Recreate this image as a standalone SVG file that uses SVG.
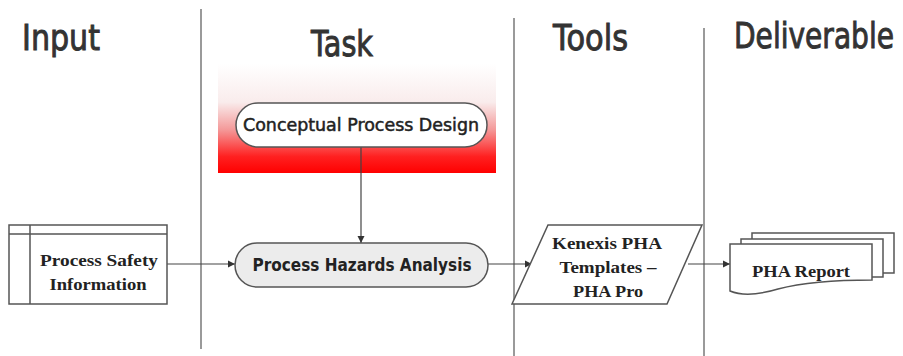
<svg xmlns="http://www.w3.org/2000/svg" width="903" height="356" viewBox="0 0 903 356">
  <defs>
    <linearGradient id="redFade" x1="0" y1="0" x2="0" y2="1">
      <stop offset="0" stop-color="#ffffff"/>
      <stop offset="0.35" stop-color="#f9ecec"/>
      <stop offset="0.6" stop-color="#f49a9a"/>
      <stop offset="0.85" stop-color="#ff2020"/>
      <stop offset="1" stop-color="#ff0000"/>
    </linearGradient>
    <marker id="arrow" markerWidth="8" markerHeight="8" refX="7" refY="4" orient="auto" markerUnits="userSpaceOnUse">
      <path d="M0,0.5 L7,4 L0,7.5 Z" fill="#333"/>
    </marker>
    <style>
      .lane { stroke: #9a9a9a; stroke-width: 2; fill: none; }
      .head { font-family: "DejaVu Sans", Verdana, sans-serif; font-size: 29px; fill: #333; stroke: #333; stroke-width: 0.8px; }
      .shape { stroke: #555; stroke-width: 1.5; fill: #fff; }
      .serif { font-family: "Liberation Serif", "Times New Roman", serif; font-weight: bold; font-size: 17px; fill: #222; text-anchor: middle; }
      .sans { font-family: "DejaVu Sans", Verdana, sans-serif; font-size: 17px; fill: #222; text-anchor: middle; }
      .conn { stroke: #444; stroke-width: 1.2; fill: none; marker-end: url(#arrow); }
    </style>
  </defs>

  <!-- swimlane separators -->
  <g id="lanes">
    <line class="lane" x1="201" y1="9" x2="201" y2="349"/>
    <line class="lane" x1="514" y1="18" x2="514" y2="356"/>
    <line class="lane" x1="704" y1="28" x2="704" y2="356"/>
  </g>

  <!-- column headings, stretched vertically for the tall narrow look -->
  <g id="headings">
    <text class="head" transform="translate(22,50) scale(1,1.22)" textLength="78" lengthAdjust="spacingAndGlyphs">Input</text>
    <text class="head" transform="translate(311,56) scale(1,1.22)" textLength="62" lengthAdjust="spacingAndGlyphs">Task</text>
    <text class="head" transform="translate(553,50) scale(1,1.22)" textLength="75" lengthAdjust="spacingAndGlyphs">Tools</text>
    <text class="head" transform="translate(734,48) scale(1,1.22)" textLength="160" lengthAdjust="spacingAndGlyphs">Deliverable</text>
  </g>

  <!-- red backdrop behind the design step -->
  <rect id="design-band" x="218" y="64" width="278" height="109" fill="url(#redFade)"/>

  <g id="connectors">
    <line class="conn" x1="167" y1="264" x2="235" y2="264"/>
    <line class="conn" x1="361" y1="147" x2="361" y2="243"/>
    <line class="conn" x1="488" y1="264" x2="532" y2="264"/>
    <line class="conn" x1="688" y1="264" x2="730" y2="264"/>
  </g>

  <g id="process-safety-information">
    <rect class="shape" x="9" y="225" width="158" height="79"/>
    <line x1="30" y1="225" x2="30" y2="304" stroke="#555" stroke-width="1.5"/>
    <line x1="9" y1="234" x2="167" y2="234" stroke="#555" stroke-width="1.5"/>
    <text class="serif" x="99" y="266" textLength="118" lengthAdjust="spacingAndGlyphs">Process Safety</text>
    <text class="serif" x="98" y="290" textLength="97" lengthAdjust="spacingAndGlyphs">Information</text>
  </g>

  <g id="conceptual-process-design">
    <rect class="shape" x="236" y="103" width="251" height="44" rx="22"/>
    <text class="sans" x="361" y="131" stroke="#222" stroke-width="0.5" textLength="236" lengthAdjust="spacingAndGlyphs">Conceptual Process Design</text>
  </g>

  <g id="process-hazards-analysis">
    <rect class="shape" x="235" y="243" width="253" height="44" rx="22" style="fill:#ececec"/>
    <text class="sans" x="362" y="271" font-weight="bold" textLength="219" lengthAdjust="spacingAndGlyphs">Process Hazards Analysis</text>
  </g>

  <g id="pha-templates">
    <polygon class="shape" points="548,225 702,225 667,304 512,304"/>
    <text class="serif" x="607" y="249" textLength="110" lengthAdjust="spacingAndGlyphs">Kenexis PHA</text>
    <text class="serif" x="608" y="273" textLength="97" lengthAdjust="spacingAndGlyphs">Templates –</text>
    <text class="serif" x="608" y="297" textLength="70" lengthAdjust="spacingAndGlyphs">PHA Pro</text>
  </g>

  <g id="pha-report">
    <path d="M752,239 V233 H894 V273 H883" stroke="#555" stroke-width="1.5" fill="none"/>
    <path d="M741,244 V239 H883 V277 H872" stroke="#555" stroke-width="1.5" fill="none"/>
    <path class="shape" d="M730,244 H872 V280 C842,280 805,282 778,289 C758,295 742,296 730,291 Z"/>
    <text class="serif" x="801" y="277" textLength="98" lengthAdjust="spacingAndGlyphs">PHA Report</text>
  </g>
</svg>
